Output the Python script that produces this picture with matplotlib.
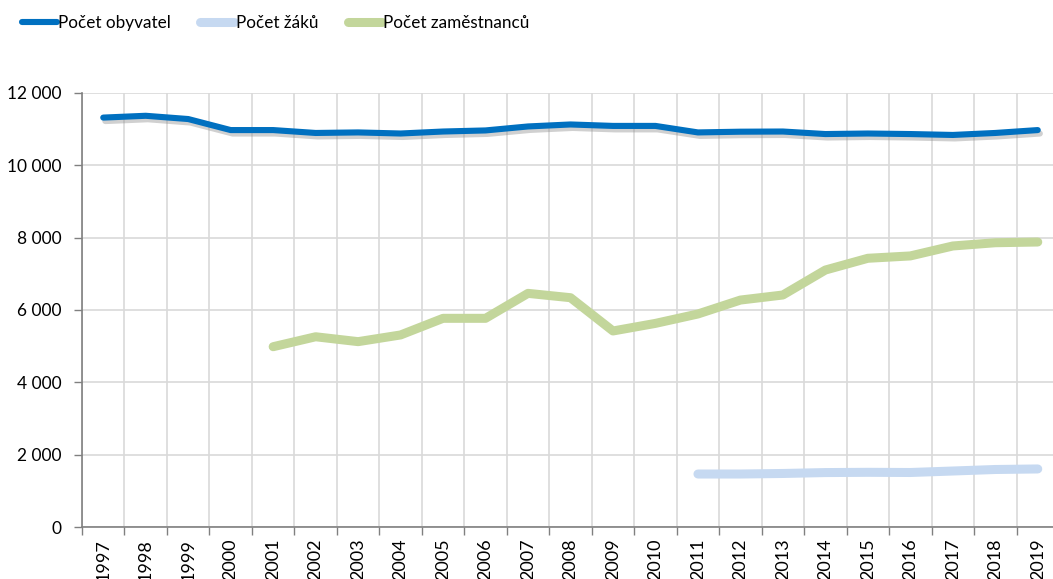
import matplotlib
matplotlib.use("Agg")
import matplotlib.pyplot as plt
import matplotlib.patheffects as pe
from matplotlib.ticker import FixedLocator, FuncFormatter
import numpy as np

years = list(range(1997, 2020))
obyvatel = [11320, 11370, 11280, 10975, 10975, 10895, 10910, 10880, 10935, 10965,
            11075, 11130, 11090, 11090, 10910, 10930, 10935, 10865, 10880, 10865,
            10840, 10895, 10975]
zaku_years = list(range(2011, 2020))
zaku = [1465, 1465, 1480, 1505, 1512, 1507, 1548, 1590, 1605]
zam_years = list(range(2001, 2020))
zamestnancu = [4985, 5260, 5125, 5310, 5770, 5770, 6460, 6340, 5420, 5630,
               5890, 6275, 6415, 7105, 7430, 7495, 7770, 7860, 7880]

plt.rcParams["font.family"] = ["Lato", "DejaVu Sans"]

W, H = 1053, 579
fig = plt.figure(figsize=(W / 100, H / 100), dpi=100)
ax = fig.add_axes([82 / W, 52 / H, 977 / W, 434 / H])

x_all = np.arange(len(years))
xz = [years.index(y) for y in zaku_years]
xe = [years.index(y) for y in zam_years]

l1, = ax.plot(x_all, obyvatel, color="#0070C0", lw=4.4, solid_capstyle="round",
              solid_joinstyle="round", label="Počet obyvatel", zorder=3,
              path_effects=[pe.SimpleLineShadow(offset=(1.5, -2.5), shadow_color="#8a8a8a", alpha=0.4),
                            pe.Normal()])
l2, = ax.plot(xz, zaku, color="#C6D9F1", lw=6.5, solid_capstyle="round",
              solid_joinstyle="round", label="Počet žáků", zorder=3)
l3, = ax.plot(xe, zamestnancu, color="#C3D69B", lw=6.5, solid_capstyle="round",
              solid_joinstyle="round", label="Počet zaměstnanců", zorder=3)

ax.set_xlim(-0.5, len(years) - 0.5)
ax.set_ylim(0, 12000)
ax.xaxis.set_major_locator(FixedLocator(np.arange(-0.5, len(years), 1.0)))
ax.xaxis.set_minor_locator(FixedLocator(x_all))
ax.set_xticklabels([], minor=False)
ax.set_xticklabels([str(y) for y in years], minor=True, rotation=90, fontsize=13)
ax.tick_params(axis="x", which="minor", length=0, pad=8.5)
ax.tick_params(axis="x", which="major", length=6, color="#808080", width=1)
ax.set_yticks(np.arange(0, 12001, 2000))
ax.yaxis.set_major_formatter(FuncFormatter(lambda v, p: f"{int(v):,}".replace(",", " ")))
ax.tick_params(axis="y", length=6, color="#808080", width=1, pad=8.5, labelsize=12.5)

ax.grid(True, which="major", color="#D9D9D9", lw=1.2)
ax.set_axisbelow(True)
for s in ["top", "right"]:
    ax.spines[s].set_visible(False)
for s in ["left", "bottom"]:
    ax.spines[s].set_color("#808080")
    ax.spines[s].set_linewidth(1.2)

leg = fig.legend(handles=[l1, l2, l3], loc="upper left", bbox_to_anchor=(7 / W, 1 - 0 / H),
                 ncol=3, frameon=False, handlelength=2.0, handletextpad=0.1,
                 columnspacing=1.7, prop={"size": 12.3})
for h in leg.legend_handles:
    h.set_path_effects([])

fig.savefig("out.png", dpi=100)
